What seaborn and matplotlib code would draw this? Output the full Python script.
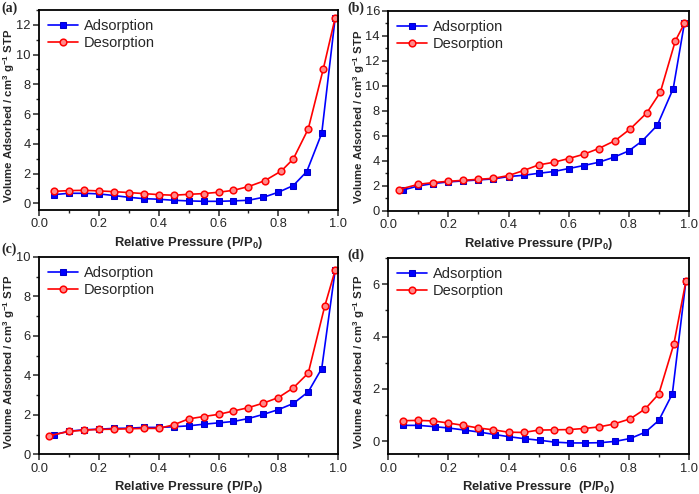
import matplotlib
matplotlib.use("Agg")
import matplotlib.pyplot as plt
from matplotlib.ticker import MultipleLocator
import seaborn as sns
import pandas as pd

# panel (a)
a_ads_x = [0.05, 0.1, 0.15, 0.2, 0.25, 0.3, 0.35, 0.4, 0.45, 0.5, 0.55, 0.6, 0.65, 0.7, 0.75, 0.8, 0.85, 0.895, 0.945, 0.99]
a_ads_y = [0.58, 0.67, 0.67, 0.63, 0.52, 0.40, 0.31, 0.27, 0.20, 0.16, 0.13, 0.13, 0.16, 0.20, 0.40, 0.74, 1.19, 2.13, 4.70, 12.47]
a_des_x = [0.05, 0.1, 0.15, 0.2, 0.25, 0.3, 0.35, 0.4, 0.45, 0.5, 0.55, 0.6, 0.65, 0.7, 0.755, 0.81, 0.85, 0.9, 0.95, 0.99]
a_des_y = [0.80, 0.85, 0.87, 0.83, 0.78, 0.72, 0.65, 0.58, 0.54, 0.60, 0.65, 0.74, 0.87, 1.12, 1.52, 2.17, 2.98, 5.00, 9.01, 12.47]

# panel (b)
b_ads_x = [0.05, 0.1, 0.15, 0.2, 0.25, 0.3, 0.35, 0.4, 0.45, 0.5, 0.55, 0.6, 0.65, 0.7, 0.75, 0.8, 0.845, 0.895, 0.948, 0.985]
b_ads_y = [1.68, 2.00, 2.19, 2.32, 2.40, 2.48, 2.56, 2.75, 2.85, 3.01, 3.15, 3.39, 3.63, 3.89, 4.29, 4.80, 5.60, 6.85, 9.79, 14.99]
b_des_x = [0.035, 0.1, 0.15, 0.2, 0.25, 0.3, 0.35, 0.4, 0.45, 0.5, 0.55, 0.6, 0.65, 0.7, 0.755, 0.805, 0.86, 0.905, 0.955, 0.985]
b_des_y = [1.71, 2.13, 2.27, 2.37, 2.45, 2.53, 2.61, 2.83, 3.23, 3.68, 3.89, 4.19, 4.53, 4.99, 5.63, 6.56, 7.84, 9.49, 13.60, 14.99]

# panel (c)
c_ads_x = [0.05, 0.1, 0.15, 0.2, 0.25, 0.3, 0.35, 0.4, 0.45, 0.5, 0.55, 0.6, 0.65, 0.7, 0.75, 0.8, 0.85, 0.9, 0.945, 0.99]
c_ads_y = [1.00, 1.18, 1.25, 1.28, 1.32, 1.33, 1.37, 1.37, 1.40, 1.45, 1.53, 1.60, 1.67, 1.82, 2.03, 2.27, 2.58, 3.17, 4.35, 9.33]
c_des_x = [0.035, 0.1, 0.15, 0.2, 0.25, 0.3, 0.35, 0.4, 0.45, 0.5, 0.55, 0.6, 0.65, 0.7, 0.75, 0.8, 0.85, 0.9, 0.955, 0.99]
c_des_y = [0.95, 1.17, 1.23, 1.27, 1.28, 1.30, 1.32, 1.32, 1.50, 1.80, 1.92, 2.03, 2.20, 2.37, 2.60, 2.88, 3.37, 4.12, 7.50, 9.33]

# panel (d)
d_ads_x = [0.05, 0.1, 0.155, 0.2, 0.255, 0.305, 0.355, 0.4, 0.455, 0.505, 0.555, 0.605, 0.655, 0.705, 0.755, 0.805, 0.855, 0.9, 0.945, 0.99]
d_ads_y = [0.61, 0.61, 0.56, 0.51, 0.43, 0.35, 0.26, 0.18, 0.10, 0.04, -0.03, -0.06, -0.06, -0.05, 0.00, 0.11, 0.35, 0.80, 1.81, 6.10]
d_des_x = [0.05, 0.1, 0.15, 0.2, 0.25, 0.3, 0.35, 0.4, 0.45, 0.5, 0.55, 0.6, 0.65, 0.7, 0.75, 0.805, 0.855, 0.9, 0.95, 0.99]
d_des_y = [0.79, 0.80, 0.78, 0.70, 0.61, 0.51, 0.44, 0.35, 0.34, 0.43, 0.44, 0.45, 0.49, 0.55, 0.66, 0.86, 1.24, 1.81, 3.71, 6.10]

panels = [
    ("(a)", a_ads_x, a_ads_y, a_des_x, a_des_y, (-0.45, 13.0), "Relative Pressure (P/P$_0$)"),
    ("(b)", b_ads_x, b_ads_y, b_des_x, b_des_y, (0, 16), "Relative Pressure (P/P$_0$)"),
    ("(c)", c_ads_x, c_ads_y, c_des_x, c_des_y, (0, 10), "Relative Pressure (P/P$_0$)"),
    ("(d)", d_ads_x, d_ads_y, d_des_x, d_des_y, (-0.5, 7.0), "Relative Pressure  (P/P$_0$)"),
]

positions = [
    [0.0558, 0.575, 0.428, 0.405],
    [0.5555, 0.573, 0.430, 0.405],
    [0.0558, 0.080, 0.428, 0.400],
    [0.5555, 0.080, 0.430, 0.398],
]
label_xy = [(0.002, 0.997), (0.497, 0.997), (0.002, 0.510), (0.497, 0.497)]

sns.set_style("ticks")
plt.rcParams['font.family'] = ['Liberation Sans', 'DejaVu Sans']
plt.rcParams['mathtext.default'] = 'regular'

fig = plt.figure(figsize=(6.99, 4.94), dpi=100)

for (label, ax_x, ax_y, de_x, de_y, ylim, xlab), pos, lxy in zip(panels, positions, label_xy):
    ax = fig.add_axes(pos)
    ads = pd.DataFrame({"x": ax_x, "y": ax_y})
    des = pd.DataFrame({"x": de_x, "y": de_y})
    sns.lineplot(data=ads, x="x", y="y", ax=ax, color="#0000ff", lw=1.2,
                 marker="s", markersize=4.2, markeredgecolor="#0000cc",
                 label="Adsorption", sort=False)
    sns.lineplot(data=des, x="x", y="y", ax=ax, color="#ff0000", lw=1.2,
                 marker="o", markersize=4.8, markerfacecolor="#ff8a8a",
                 markeredgecolor="#ff0000", markeredgewidth=1.1,
                 label="Desorption", sort=False)
    ax.set_xlim(0, 1.0)
    ax.set_ylim(*ylim)
    ax.xaxis.set_major_locator(MultipleLocator(0.2))
    ax.xaxis.set_minor_locator(MultipleLocator(0.1))
    ax.yaxis.set_major_locator(MultipleLocator(2))
    ax.yaxis.set_minor_locator(MultipleLocator(1))
    ax.tick_params(which="major", direction="out", length=4, width=1.1, labelsize=9.3, pad=2)
    ax.tick_params(which="minor", direction="out", length=2.3, width=1.0)
    for sp in ax.spines.values():
        sp.set_linewidth(1.3)
        sp.set_color("black")
    ax.set_xlabel(xlab, fontsize=9.4, fontweight="bold")
    ax.set_ylabel("Volume Adsorbed / cm$^3$ g$^{-1}$ STP", fontsize=8.2, fontweight="bold")
    ax.xaxis.set_label_coords(0.5, -0.125)
    ax.yaxis.set_label_coords(-0.072, 0.47)
    ax.legend(loc="upper left", frameon=False, fontsize=10.5, handlelength=2.05,
              borderaxespad=0.3, borderpad=0.3, labelspacing=0.25, handletextpad=0.4)
    fig.text(lxy[0], lxy[1], label, family="Liberation Serif",
             fontweight="bold", fontsize=10, va="top", ha="left")

fig.savefig("out.png", dpi=100)
